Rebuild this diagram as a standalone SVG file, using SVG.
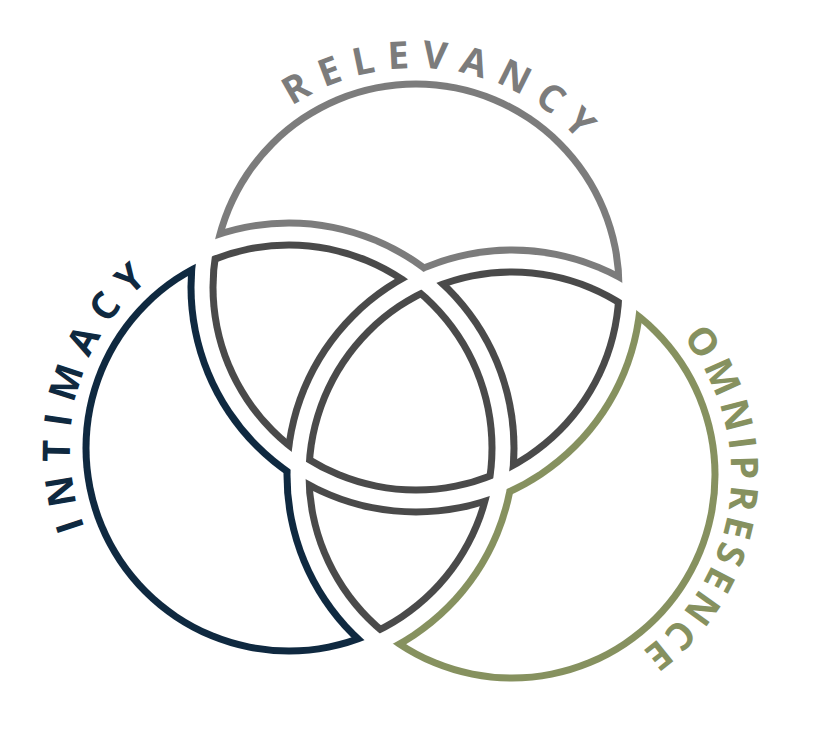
<svg xmlns="http://www.w3.org/2000/svg" width="836" height="732" viewBox="0 0 836 732">
<style>
.lbl{font-family:"Open Sans","Liberation Sans",sans-serif;font-weight:700;font-size:38px;}
.gray{fill:#7c7c7c}
.dark{fill:#4a4a4a}
.navy{fill:#0f2940}
.green{fill:#86915f}
.wh{fill:#fff}
</style>
<defs>
<clipPath id="cR1"><circle cx="416" cy="287" r="206.5"/></clipPath>
<clipPath id="cR2"><circle cx="416" cy="287" r="199.5"/></clipPath>
<clipPath id="cI1"><circle cx="289" cy="448" r="206.5"/></clipPath>
<clipPath id="cI2"><circle cx="289" cy="448" r="199.5"/></clipPath>
<clipPath id="cO1"><circle cx="512" cy="475" r="206.5"/></clipPath>
<clipPath id="cO2"><circle cx="512" cy="475" r="199.5"/></clipPath>
<mask id="xR1" maskUnits="userSpaceOnUse" x="0" y="0" width="836" height="732"><rect width="836" height="732" fill="#fff"/><circle cx="416" cy="287" r="221.5" fill="#000"/></mask>
<mask id="xR2" maskUnits="userSpaceOnUse" x="0" y="0" width="836" height="732"><rect width="836" height="732" fill="#fff"/><circle cx="416" cy="287" r="228.5" fill="#000"/></mask>
<mask id="xI1" maskUnits="userSpaceOnUse" x="0" y="0" width="836" height="732"><rect width="836" height="732" fill="#fff"/><circle cx="289" cy="448" r="221.5" fill="#000"/></mask>
<mask id="xI2" maskUnits="userSpaceOnUse" x="0" y="0" width="836" height="732"><rect width="836" height="732" fill="#fff"/><circle cx="289" cy="448" r="228.5" fill="#000"/></mask>
<mask id="xO1" maskUnits="userSpaceOnUse" x="0" y="0" width="836" height="732"><rect width="836" height="732" fill="#fff"/><circle cx="512" cy="475" r="221.5" fill="#000"/></mask>
<mask id="xO2" maskUnits="userSpaceOnUse" x="0" y="0" width="836" height="732"><rect width="836" height="732" fill="#fff"/><circle cx="512" cy="475" r="228.5" fill="#000"/></mask>
<mask id="xIO1" maskUnits="userSpaceOnUse" x="0" y="0" width="836" height="732"><rect width="836" height="732" fill="#fff"/><circle cx="289" cy="448" r="221.5" fill="#000"/><circle cx="512" cy="475" r="221.5" fill="#000"/></mask>
<mask id="xIO2" maskUnits="userSpaceOnUse" x="0" y="0" width="836" height="732"><rect width="836" height="732" fill="#fff"/><circle cx="289" cy="448" r="228.5" fill="#000"/><circle cx="512" cy="475" r="228.5" fill="#000"/></mask>
<mask id="xRO1" maskUnits="userSpaceOnUse" x="0" y="0" width="836" height="732"><rect width="836" height="732" fill="#fff"/><circle cx="416" cy="287" r="221.5" fill="#000"/><circle cx="512" cy="475" r="221.5" fill="#000"/></mask>
<mask id="xRO2" maskUnits="userSpaceOnUse" x="0" y="0" width="836" height="732"><rect width="836" height="732" fill="#fff"/><circle cx="416" cy="287" r="228.5" fill="#000"/><circle cx="512" cy="475" r="228.5" fill="#000"/></mask>
<mask id="xRI1" maskUnits="userSpaceOnUse" x="0" y="0" width="836" height="732"><rect width="836" height="732" fill="#fff"/><circle cx="416" cy="287" r="221.5" fill="#000"/><circle cx="289" cy="448" r="221.5" fill="#000"/></mask>
<mask id="xRI2" maskUnits="userSpaceOnUse" x="0" y="0" width="836" height="732"><rect width="836" height="732" fill="#fff"/><circle cx="416" cy="287" r="228.5" fill="#000"/><circle cx="289" cy="448" r="228.5" fill="#000"/></mask>
<path id="pR" d="M416 506 A219 219 0 1 1 416 68 A219 219 0 1 1 416 506"/>
<path id="pI" d="M289 667 A219 219 0 1 1 289 229 A219 219 0 1 1 289 667"/>
<path id="pO" d="M512 256 A219 219 0 1 1 512 694 A219 219 0 1 1 512 256"/>
</defs>
<rect width="836" height="732" fill="#fff"/>

<g id="relevancy">
<circle class="gray" cx="416" cy="287" r="206.5" mask="url(#xIO1)"/>
<circle class="wh" cx="416" cy="287" r="199.5" mask="url(#xIO2)"/>
</g>
<g id="intimacy">
<circle class="navy" cx="289" cy="448" r="206.5" mask="url(#xRO1)"/>
<circle class="wh" cx="289" cy="448" r="199.5" mask="url(#xRO2)"/>
</g>
<g id="omnipresence">
<circle class="green" cx="512" cy="475" r="206.5" mask="url(#xRI1)"/>
<circle class="wh" cx="512" cy="475" r="199.5" mask="url(#xRI2)"/>
</g>
<g id="relevancy-intimacy">
<circle class="dark" cx="416" cy="287" r="206.5" clip-path="url(#cI1)" mask="url(#xO1)"/>
<circle class="wh" cx="416" cy="287" r="199.5" clip-path="url(#cI2)" mask="url(#xO2)"/>
</g>
<g id="relevancy-omnipresence">
<circle class="dark" cx="416" cy="287" r="206.5" clip-path="url(#cO1)" mask="url(#xI1)"/>
<circle class="wh" cx="416" cy="287" r="199.5" clip-path="url(#cO2)" mask="url(#xI2)"/>
</g>
<g id="intimacy-omnipresence">
<circle class="dark" cx="289" cy="448" r="206.5" clip-path="url(#cO1)" mask="url(#xR1)"/>
<circle class="wh" cx="289" cy="448" r="199.5" clip-path="url(#cO2)" mask="url(#xR2)"/>
</g>
<g id="center">
<g clip-path="url(#cO1)"><circle class="dark" cx="416" cy="287" r="206.5" clip-path="url(#cI1)"/></g>
<g clip-path="url(#cO2)"><circle class="wh" cx="416" cy="287" r="199.5" clip-path="url(#cI2)"/></g>
</g>

<g id="labels">
<text class="lbl gray" letter-spacing="12" text-anchor="middle"><textPath href="#pR" startOffset="52.3%">RELEVANCY</textPath></text>
<text class="lbl navy" letter-spacing="12" text-anchor="middle"><textPath href="#pI" startOffset="29.4%">INTIMACY</textPath></text>
<text class="lbl green" letter-spacing="5" text-anchor="middle"><textPath href="#pO" startOffset="27.2%">OMNIPRESENCE</textPath></text>
</g>
</svg>
